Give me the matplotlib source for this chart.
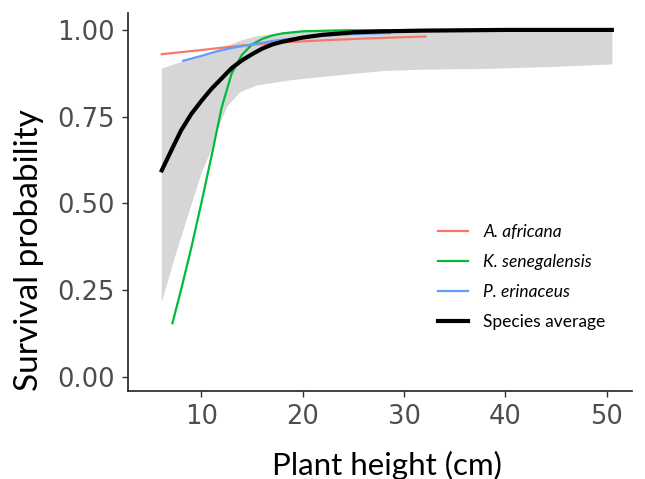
import numpy as np
import matplotlib.pyplot as plt

# species average + confidence band
avg_x = [6.1, 7, 8, 9, 10, 11, 12, 13, 14, 15, 16, 17, 18, 20, 22, 25, 28, 32, 40, 50.5]
avg_y = [0.595, 0.65, 0.71, 0.757, 0.795, 0.83, 0.86, 0.89, 0.912, 0.93, 0.946, 0.958, 0.966,
         0.978, 0.986, 0.993, 0.996, 0.998, 1.0, 1.0]

band_x = [6.05, 7.5, 8.9, 10.0, 10.8, 11.5, 12.5, 13.8, 15.4, 18.7, 22, 25, 28, 32, 38, 45, 50.5]
band_lo = [0.215, 0.36, 0.49, 0.59, 0.645, 0.71, 0.78, 0.822, 0.841, 0.856, 0.866, 0.875,
           0.883, 0.887, 0.889, 0.895, 0.902]
band_hi = [0.89, 0.904, 0.918, 0.928, 0.936, 0.943, 0.955, 0.97, 0.983, 0.996, 1.0, 1.0,
           1.0, 1.0, 1.0, 1.0, 1.0]

# species curves
afr_x = [6.1, 10, 14, 18, 22, 26, 32.1]
afr_y = [0.930, 0.942, 0.955, 0.964, 0.970, 0.975, 0.981]

sen_x = [7.15, 8, 9, 10, 11, 12, 13, 14, 15, 16, 17, 18, 20, 24, 36.1]
sen_y = [0.154, 0.25, 0.37, 0.50, 0.635, 0.775, 0.875, 0.928, 0.958, 0.974, 0.984, 0.99,
         0.996, 0.999, 1.0]

eri_x = [8.2, 10, 11.5, 13, 14.8, 17, 20, 22.5, 24.9, 28.6]
eri_y = [0.911, 0.925, 0.938, 0.948, 0.957, 0.968, 0.979, 0.984, 0.988, 0.991]

xticks = [10, 20, 30, 40, 50]
yticks = [0.00, 0.25, 0.50, 0.75, 1.00]

fig = plt.figure(figsize=(6.45, 4.79), dpi=100)
ax = fig.add_axes([0.198, 0.184, 0.782, 0.789])

ax.fill_between(band_x, band_lo, band_hi, color='#D6D6D6', lw=0)
ax.plot(afr_x, afr_y, color='#F8766D', lw=1.6, label='A. africana')
ax.plot(sen_x, sen_y, color='#00BA38', lw=1.6, label='K. senegalensis')
ax.plot(eri_x, eri_y, color='#619CFF', lw=1.6, label='P. erinaceus')
ax.plot(avg_x, avg_y, color='black', lw=3, label='Species average')

ax.set_xlim(2.74, 52.5)
ax.set_ylim(-0.041, 1.049)
ax.set_xticks(xticks)
ax.set_yticks(yticks)
ax.set_yticklabels(['%.2f' % v for v in yticks])

for s in ['top', 'right']:
    ax.spines[s].set_visible(False)
for s in ['left', 'bottom']:
    ax.spines[s].set_linewidth(1.2)
    ax.spines[s].set_color('#222222')

ax.tick_params(length=4.5, width=1, color='#333333', labelcolor='#4D4D4D',
               labelsize=18.5, pad=5)
for lab in ax.get_xticklabels() + ax.get_yticklabels():
    lab.set_fontfamily('DejaVu Sans')

# axis titles placed where the reference has them
fig.text(0.6, 0.009, 'Plant height (cm)', fontsize=22.5, family='Lato',
         ha='center', va='baseline')
fig.text(0.045, 0.478, 'Survival probability', fontsize=24, family='Lato',
         rotation=90, ha='center', va='center')

leg = ax.legend(loc='upper left', bbox_to_anchor=(0.655, 0.564),
                bbox_transform=fig.transFigure, frameon=False,
                prop={'family': 'Lato', 'size': 12.5},
                handlelength=1.7, handletextpad=0.9, labelspacing=0.8)
for t in leg.get_texts()[:3]:
    t.set_fontstyle('italic')

fig.savefig('out.png', dpi=100)
